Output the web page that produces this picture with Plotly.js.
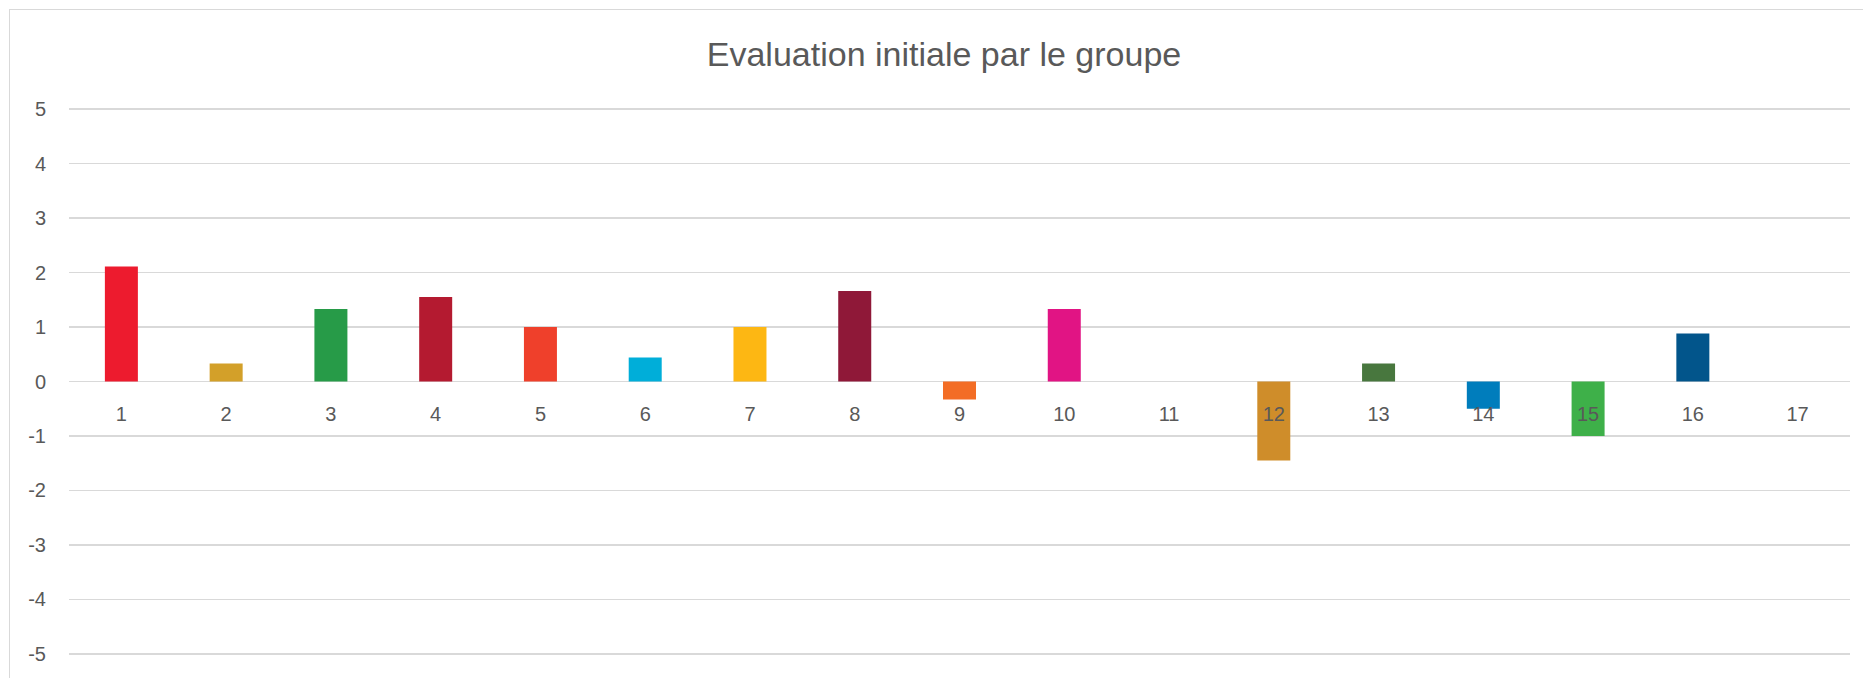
<!DOCTYPE html>
<html>
<head>
<meta charset="utf-8">
<script src="https://cdn.plot.ly/plotly-3.0.1.min.js"></script>
<style>
html,body{margin:0;padding:0;background:#fff;}
#chart{width:1863px;height:678px;position:absolute;left:0;top:0;}
#frame{position:absolute;left:9px;top:9px;width:1900px;height:700px;border-left:1.5px solid #d9d9d9;border-top:1.5px solid #d9d9d9;pointer-events:none;}
</style>
</head>
<body>
<div id="chart"></div>
<div id="frame"></div>
<script>
const categories = ['1','2','3','4','5','6','7','8','9','10','11','12','13','14','15','16','17'];
const values = [2.11, 0.33, 1.33, 1.55, 1.0, 0.44, 1.0, 1.66, -0.33, 1.33, 0, -1.45, 0.33, -0.5, -1.0, 0.88, 0];
const barColors = ['#ED1B2E','#D3A029','#279B48','#B41A30','#EF402B','#00AED9','#FDB713','#8F1838','#F36D25','#E11484','#F99D26','#CF8D2A','#48773E','#007DBC','#3EB049','#02558B','#183668'];
const yTicks = [-5,-4,-3,-2,-1,0,1,2,3,4,5];
const titleText = 'Evaluation initiale par le groupe';

const fontFam = '"Liberation Sans Narrow", "Liberation Sans", Arial, sans-serif';

const trace = {
  type: 'bar',
  x: categories,
  y: values,
  width: 0.315,
  marker: {color: barColors, line: {width: 0}},
  hoverinfo: 'x+y'
};

const layout = {
  width: 1863,
  height: 678,
  margin: {l: 69, r: 13, t: 108, b: 23, pad: 0},
  paper_bgcolor: '#ffffff',
  plot_bgcolor: '#ffffff',
  showlegend: false,
  title: {
    text: titleText,
    font: {family: fontFam, size: 34, color: '#595959'},
    x: 944/1863, xref: 'container', xanchor: 'center',
    y: 1 - 54/678, yref: 'container', yanchor: 'middle'
  },
  xaxis: {
    type: 'category',
    tickvals: categories,
    ticktext: categories,
    anchor: 'free',
    position: 0.5,
    showgrid: false,
    showline: false,
    zeroline: false,
    ticks: '',
    ticklabelstandoff: 18,
    tickfont: {family: fontFam, size: 20, color: '#595959'},
    range: [-0.5, 16.5]
  },
  yaxis: {
    range: [-5.02, 5.02],
    tickvals: yTicks,
    ticktext: yTicks.map(String),
    showgrid: true,
    gridcolor: '#d9d9d9',
    gridwidth: 1.5,
    zeroline: true,
    zerolinecolor: '#d9d9d9',
    zerolinewidth: 1.5,
    showline: false,
    ticks: '',
    ticklabelstandoff: 22,
    tickfont: {family: fontFam, size: 20, color: '#595959'}
  },
  bargap: 0.685
};

Plotly.newPlot('chart', [trace], layout, {displayModeBar: false, staticPlot: true});
</script>
</body>
</html>
